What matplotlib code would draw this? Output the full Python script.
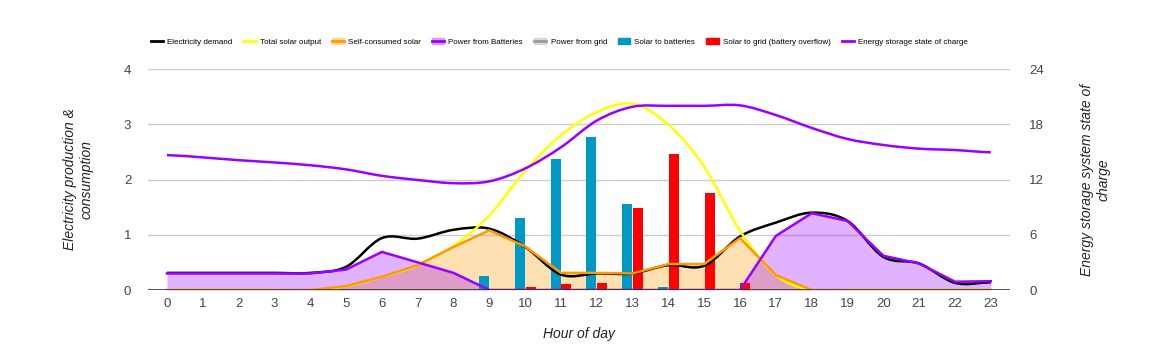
import numpy as np
import matplotlib
matplotlib.use("Agg")
import matplotlib.pyplot as plt
from matplotlib.path import Path
from matplotlib.patches import PathPatch, Patch
from matplotlib.lines import Line2D
from matplotlib.legend_handler import HandlerTuple

plt.rcParams["font.family"] = ["Liberation Sans", "DejaVu Sans"]

# =====================================
# Data (hourly)
# =====================================

hours = list(range(24))

demand = [0.31, 0.31, 0.31, 0.31, 0.31, 0.42, 0.94, 0.93, 1.09, 1.11,
          0.78, 0.28, 0.30, 0.30, 0.45, 0.44, 0.97, 1.22, 1.40, 1.25,
          0.60, 0.48, 0.13, 0.14]

solar_total = [0, 0, 0, 0, 0, 0.07, 0.24, 0.45, 0.80, 1.35,
               2.16, 2.80, 3.22, 3.37, 2.99, 2.23, 1.07, 0.27, 0, 0,
               0, 0, 0, 0]

self_consumed = [0, 0, 0, 0, 0, 0.07, 0.24, 0.45, 0.78, 1.08,
                 0.79, 0.31, 0.31, 0.30, 0.47, 0.47, 0.94, 0.27, 0, 0,
                 0, 0, 0, 0]

from_batteries = [0.30, 0.30, 0.30, 0.30, 0.30, 0.37, 0.69, 0.50, 0.31, 0,
                  0, 0, 0, 0, 0, 0, 0, 0.98, 1.39, 1.25,
                  0.62, 0.48, 0.15, 0.16]

from_grid = [0] * 24

to_batteries = [0, 0, 0, 0, 0, 0, 0, 0, 0, 0.25,
                1.30, 2.37, 2.77, 1.56, 0.05, 0, 0, 0, 0, 0,
                0, 0, 0, 0]

to_grid = [0, 0, 0, 0, 0, 0, 0, 0, 0, 0,
           0.05, 0.11, 0.13, 1.48, 2.46, 1.76, 0.13, 0, 0, 0,
           0, 0, 0, 0]

state_of_charge = [14.65, 14.4, 14.1, 13.85, 13.55, 13.1, 12.4, 11.95, 11.6, 11.8,
                   13.2, 15.5, 18.4, 19.9, 20.0, 20.0, 20.05, 19.0, 17.6, 16.4,
                   15.75, 15.35, 15.2, 14.95]


def smooth_path(x, y):
    # cubic bezier through the points (Catmull-Rom style tangents)
    x = np.asarray(x, float)
    y = np.asarray(y, float)
    n = len(x)
    verts = [(x[0], y[0])]
    codes = [Path.MOVETO]
    for i in range(n - 1):
        y0 = y[i - 1] if i > 0 else y[i]
        y3 = y[i + 2] if i + 2 < n else y[i + 1]
        dx = x[i + 1] - x[i]
        c1 = (x[i] + dx / 3, y[i] + (y[i + 1] - y0) / 6)
        c2 = (x[i + 1] - dx / 3, y[i + 1] - (y3 - y[i]) / 6)
        verts += [c1, c2, (x[i + 1], y[i + 1])]
        codes += [Path.CURVE4] * 3
    return Path(verts, codes)


# =====================================
# Chart
# =====================================

fig = plt.figure(figsize=(11.58, 3.6), dpi=100)
ax = fig.add_axes([0.1278, 0.1944, 0.7442, 0.6139])
ax2 = ax.twinx()

x = np.array(hours)

# areas
ax.fill_between(x, self_consumed, color="#FF9900", alpha=0.3, lw=0, zorder=2)
ax.plot(x, self_consumed, color="#FF9900", lw=1.8, zorder=4)
ax.fill_between(x, from_batteries, color="#9900FF", alpha=0.3, lw=0, zorder=2)
ax.plot(x, from_batteries, color="#9900FF", lw=1.8, zorder=4)
ax.plot(x, from_grid, color="#AAAAAA", lw=1.8, zorder=3)

# bars
bw = 0.28
ax.bar(x - bw / 2 - 0.01, to_batteries, width=bw, color="#0099C6", zorder=3)
ax.bar(x + bw / 2 + 0.01, to_grid, width=bw, color="#FF0000", zorder=3)

# smooth lines
ax.add_patch(PathPatch(smooth_path(x, demand), fill=False,
                       edgecolor="#000000", lw=1.8, zorder=3.5))
ax.add_patch(PathPatch(smooth_path(x, solar_total), fill=False,
                       edgecolor="#FFFF00", lw=1.8, zorder=3.5))
ax2.add_patch(PathPatch(smooth_path(x, state_of_charge), fill=False,
                        edgecolor="#9900FF", lw=1.8, zorder=5))

ax.set_xlim(-0.53, 23.53)
ax.set_ylim(0, 4)
ax2.set_ylim(0, 24)
ax.set_yticks([0, 1, 2, 3, 4])
ax2.set_yticks([0, 6, 12, 18, 24])
ax.set_xticks(hours)

ax.grid(axis="y", color="#CCCCCC", lw=1, zorder=0)
ax.set_axisbelow(True)
ax.axhline(0, color="#333333", lw=1.2, zorder=6)

for a in (ax, ax2):
    for s in a.spines.values():
        s.set_visible(False)
    a.tick_params(length=0, labelsize=9.5, colors="#444444")
ax.tick_params(axis="y", pad=12)
ax2.tick_params(axis="y", pad=14)
ax.tick_params(axis="x", pad=6)

ax.set_xlabel("Hour of day", fontsize=10, style="italic", color="#222222",
              labelpad=12)
ax.set_ylabel("Electricity production &\nconsumption", fontsize=10,
              style="italic", color="#222222", labelpad=22)
ax2.set_ylabel("Energy storage system state of\ncharge", fontsize=10,
               style="italic", color="#222222", labelpad=26)

# legend
handles = [
    Line2D([], [], color="#000000", lw=2),
    Line2D([], [], color="#FFFF00", lw=2),
    (Patch(color="#FF9900", alpha=0.3), Line2D([], [], color="#FF9900", lw=2)),
    (Patch(color="#9900FF", alpha=0.3), Line2D([], [], color="#9900FF", lw=2)),
    (Patch(color="#999999", alpha=0.3), Line2D([], [], color="#999999", lw=2)),
    Patch(color="#0099C6"),
    Patch(color="#FF0000"),
    Line2D([], [], color="#9900FF", lw=2),
]
labels = ["Electricity demand", "Total solar output", "Self-consumed solar",
          "Power from Batteries", "Power from grid", "Solar to batteries",
          "Solar to grid (battery overflow)", "Energy storage state of charge"]
fig.legend(handles, labels, ncol=8, loc="center left",
           bbox_to_anchor=(0.124, 1 - 42 / 360), frameon=False,
           fontsize=5.8, handlelength=1.5, handletextpad=0.5,
           columnspacing=1.4, handler_map={tuple: HandlerTuple(ndivide=1)})

plt.savefig("out.png", dpi=100)
